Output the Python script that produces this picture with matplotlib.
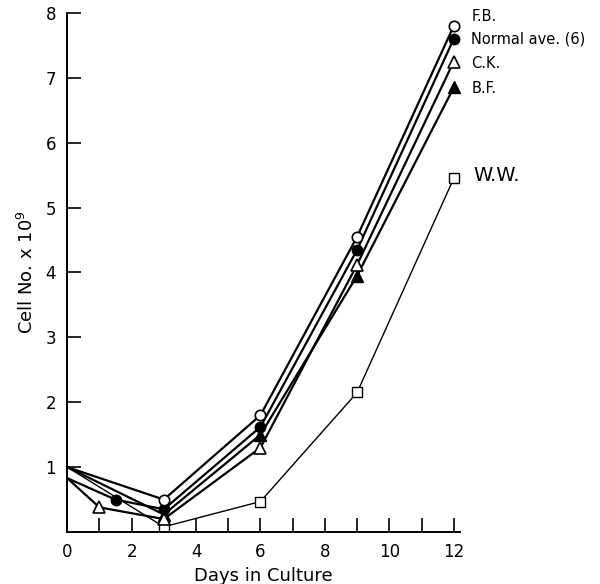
import matplotlib.pyplot as plt

# days in culture / cell number (x 10^9)
fb_x = [0, 3, 6, 9, 12]
fb_y = [1.0, 0.5, 1.8, 4.55, 7.8]
norm_x = [0, 1.5, 3, 6, 9, 12]
norm_y = [0.83, 0.5, 0.35, 1.62, 4.35, 7.6]
ck_x = [0, 1, 3, 6, 9, 12]
ck_y = [0.83, 0.38, 0.2, 1.3, 4.12, 7.25]
bf_x = [0, 3, 6, 9, 12]
bf_y = [1.0, 0.27, 1.5, 3.95, 6.85]
ww_x = [0, 3, 6, 9, 12]
ww_y = [1.0, 0.08, 0.47, 2.15, 5.45]

labels = ['F.B.', 'Normal ave. (6)', 'C.K.', 'B.F.', 'W.W.']

fig = plt.figure(figsize=(6, 5.84), dpi=100)
ax = fig.add_axes([0.112, 0.089, 0.655, 0.889])

ms = 7.5
me = slice(1, None)  # no marker at day 0
ax.plot(ww_x, ww_y, color='black', lw=1.0, marker='s', ms=ms - 0.5, mfc='white', mec='black', mew=1.0,
        markevery=me, zorder=2)
ax.plot(bf_x, bf_y, color='black', lw=1.6, marker='^', ms=ms + 1, mfc='black', mec='black',
        markevery=me, zorder=3)
ax.plot(ck_x, ck_y, color='black', lw=1.6, marker='^', ms=ms + 1, mfc='white', mec='black', mew=1.2,
        markevery=me, zorder=3)
ax.plot(norm_x, norm_y, color='black', lw=1.6, marker='o', ms=ms, mfc='black', mec='black',
        markevery=me, zorder=4)
ax.plot(fb_x, fb_y, color='black', lw=1.6, marker='o', ms=ms, mfc='white', mec='black', mew=1.2,
        markevery=me, zorder=5)

# labels beside last points
ax.text(12.55, fb_y[-1] + 0.15, labels[0], fontsize=10.5, va='center')
ax.text(12.55, norm_y[-1], labels[1], fontsize=10.5, va='center')
ax.text(12.55, ck_y[-1] - 0.03, labels[2], fontsize=10.5, va='center')
ax.text(12.55, bf_y[-1] - 0.02, labels[3], fontsize=10.5, va='center')
ax.text(12.6, ww_y[-1] + 0.05, labels[4], fontsize=14, va='center')

ax.set_xlim(0, 12.2)
ax.set_ylim(0, 8)
ax.set_xticks(range(0, 13, 2))
ax.set_xticks(range(1, 13, 2), minor=True)
ax.set_yticks(range(1, 9))
ax.tick_params(direction='in', length=10, width=1.2, labelsize=12)
ax.tick_params(which='minor', direction='in', length=10, width=1.2)
ax.tick_params(axis='x', pad=8)
ax.tick_params(axis='y', pad=8)
ax.spines['top'].set_visible(False)
ax.spines['right'].set_visible(False)
ax.spines['left'].set_linewidth(1.4)
ax.spines['bottom'].set_linewidth(1.4)
ax.set_xlabel('Days in Culture', fontsize=13, labelpad=4)
ax.set_ylabel('Cell No. x 10$^9$', fontsize=13, labelpad=6)

plt.savefig('out.png', dpi=100)
